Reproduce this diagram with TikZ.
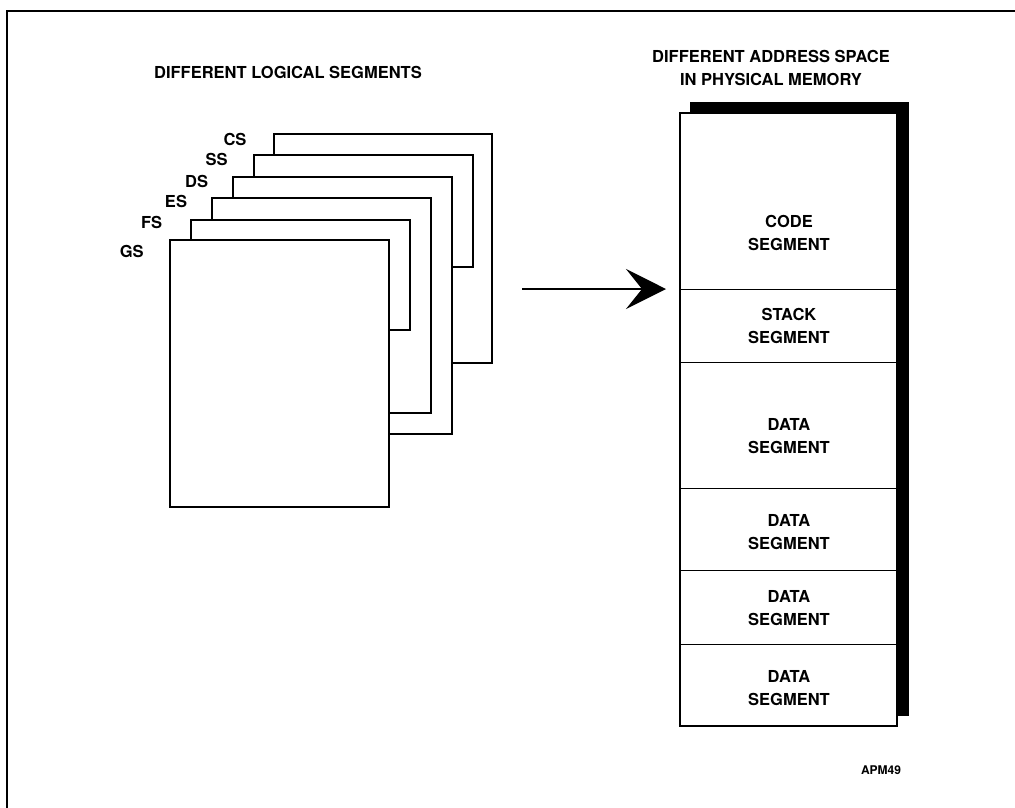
\documentclass[tikz,border=0pt]{standalone}
\usepackage{fontspec}
\setmainfont{TeX Gyre Heros}
\usetikzlibrary{arrows.meta}
\begin{document}
\begin{tikzpicture}[x=1pt,y=-1pt,
  lbl/.style={font=\fontsize{16.5}{23}\selectfont\bfseries, align=center, inner sep=0pt},
  seg/.style={draw, line width=2pt, fill=white, anchor=north west, inner sep=0pt},
  cell/.style={draw, line width=1.2pt, fill=white, anchor=north west, minimum width=217pt, inner sep=0pt},
  arr/.style={line width=2pt, -{Stealth[length=40pt, width=40pt, inset=16pt]}}
]
\useasboundingbox (0,0) rectangle (1015,807);
% frame
\draw[line width=2.2pt] (7,830) -- (7,11) -- (1030,11);
% titles
\node[lbl] (t1) at (288,72) {DIFFERENT LOGICAL SEGMENTS};
\node[lbl] (t2) at (771,68) {DIFFERENT ADDRESS SPACE\\IN PHYSICAL MEMORY};
% logical segments (back to front)
\node[seg, minimum width=218.3pt, minimum height=228.7pt] (cs) at (272.7,133.3) {};
\node[seg, minimum width=218.4pt, minimum height=111.7pt] (ss) at (253.3,154.3) {};
\node[seg, minimum width=218.7pt, minimum height=256.7pt] (ds) at (232,176) {};
\node[seg, minimum width=219.3pt, minimum height=214.7pt] (es) at (210.7,197.3) {};
\node[seg, minimum width=219pt, minimum height=110.3pt] (fs) at (190,218.7) {};
\node[seg, minimum width=219pt, minimum height=267pt] (gs) at (169.3,239) {};
\node[lbl] (lcs) at (235,139) {CS};
\node[lbl] (lss) at (216.7,159) {SS};
\node[lbl] (lds) at (196.7,181) {DS};
\node[lbl] (les) at (176,201) {ES};
\node[lbl] (lfs) at (151.7,222.7) {FS};
\node[lbl] (lgs) at (131.7,251) {GS};
% arrow
\coordinate (a1) at (522,289);
\coordinate (a2) at (666,289);
\draw[arr] (a1) -- (a2);
% memory shadow and box
\fill (690,102) rectangle (909,716);
\node[cell, minimum height=176pt] (c1) at (680,113) {};
\node[cell, minimum height=73pt] (c2) at (680,289) {};
\node[cell, minimum height=126pt] (c3) at (680,362) {};
\node[cell, minimum height=82pt] (c4) at (680,488) {};
\node[cell, minimum height=74pt] (c5) at (680,570) {};
\node[cell, minimum height=82pt] (c6) at (680,644) {};
\draw[line width=2pt] (680,113) rectangle (897,726);
\node[lbl] (m1) at (789,233) {CODE\\SEGMENT};
\node[lbl] (m2) at (789,325.5) {STACK\\SEGMENT};
\node[lbl] (m3) at (789,436) {DATA\\SEGMENT};
\node[lbl] (m4) at (789,532.5) {DATA\\SEGMENT};
\node[lbl] (m5) at (789,608.5) {DATA\\SEGMENT};
\node[lbl] (m6) at (789,688) {DATA\\SEGMENT};
\node[font=\fontsize{12}{14}\selectfont\bfseries, inner sep=0pt] (apm) at (881,770) {APM49};
\end{tikzpicture}
\end{document}
